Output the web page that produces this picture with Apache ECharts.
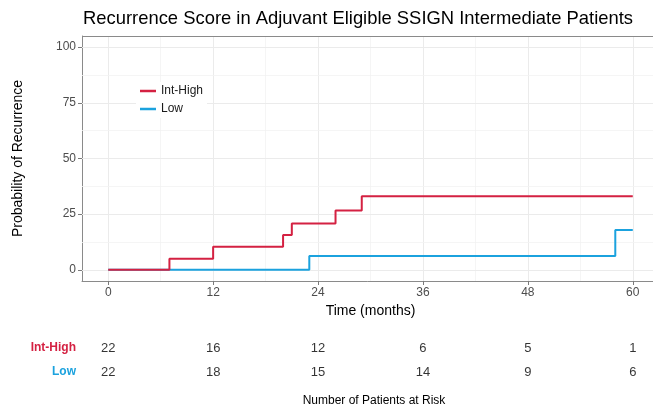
<!DOCTYPE html>
<html>
<head>
<meta charset="utf-8">
<script src="https://cdn.jsdelivr.net/npm/echarts@6/dist/echarts.min.js"></script>
<style>html,body{margin:0;padding:0;background:#fff;}#c{width:653px;height:408px;}</style>
</head>
<body>
<div id="c"></div>
<script>
// ---- data ----
const groups = ['Int-High', 'Low'];
const intHighCurve = [[0, 0], [7, 5.0], [12, 10.4], [20, 15.6], [21, 20.8], [26, 26.6], [29, 33.0], [60, 33.0]];
const lowCurve = [[0, 0], [23, 6.2], [58, 17.9], [60, 17.9]];
const xTicks = [0, 12, 24, 36, 48, 60];
const xMinor = [6, 18, 30, 42, 54];
const yTicks = [0, 25, 50, 75, 100];
const yMinor = [12.5, 37.5, 62.5, 87.5];
const riskTimes = [0, 12, 24, 36, 48, 60];
const riskIntHigh = [22, 16, 12, 6, 5, 1];
const riskLow = [22, 18, 15, 14, 9, 6];

const colors = {'Int-High': '#D42142', 'Low': '#1BA2DE'};
const FONT = 'Liberation Sans, Arial, sans-serif';
const BORDER = '#8a8a8a';

const major = {color: '#EBEBEB', width: 1, type: 'solid'};
const minor = {color: '#F3F3F3', width: 0.8, type: 'solid'};
const gridLines = []
  .concat(xTicks.map(v => ({xAxis: v, lineStyle: major})))
  .concat(xMinor.map(v => ({xAxis: v, lineStyle: minor})))
  .concat(yTicks.map(v => ({yAxis: v, lineStyle: major})))
  .concat(yMinor.map(v => ({yAxis: v, lineStyle: minor})));

const riskData = [];
riskTimes.forEach((t, i) => {
  riskData.push([t, 'Int-High', riskIntHigh[i]]);
  riskData.push([t, 'Low', riskLow[i]]);
});

const chart = echarts.init(document.getElementById('c'), null, {renderer: 'canvas'});
chart.setOption({
  animation: false,
  textStyle: {fontFamily: FONT},
  title: [
    {text: 'Recurrence Score in Adjuvant Eligible SSIGN Intermediate Patients', left: 353, top: 5, textAlign: 'center',
     textStyle: {fontFamily: FONT, fontSize: 18.4, fontWeight: 'normal', color: '#000'}},
    {text: 'Number of Patients at Risk', left: 369, top: 390, textAlign: 'center',
     textStyle: {fontFamily: FONT, fontSize: 12, fontWeight: 'normal', color: '#000'}}
  ],
  legend: {
    data: groups, orient: 'vertical', left: 136, top: 82,
    icon: 'rect', itemWidth: 16, itemHeight: 2.5, itemGap: 4,
    backgroundColor: '#fff', padding: [2, 4, 2, 4],
    textStyle: {fontFamily: FONT, fontSize: 12, color: '#1a1a1a', lineHeight: 14}
  },
  grid: [
    {left: 82, top: 36, width: 577, height: 245, show: false, outerBoundsMode: 'none', containLabel: false},
    {left: 82, top: 336, width: 577, height: 48, outerBoundsMode: 'none', containLabel: false}
  ],
  xAxis: [
    {type: 'value', gridIndex: 0, min: -3, max: 63,
     name: 'Time (months)', nameLocation: 'middle', nameGap: 22,
     nameTextStyle: {fontFamily: FONT, fontSize: 14, color: '#000'},
     axisLine: {show: true, onZero: false, lineStyle: {color: BORDER, width: 1}},
     axisTick: {show: true, length: 4, customValues: xTicks, lineStyle: {color: '#7a7a7a', width: 1}},
     axisLabel: {customValues: xTicks, margin: 6, fontSize: 12, color: '#4D4D4D', fontFamily: FONT},
     splitLine: {show: false}},
    {type: 'value', gridIndex: 1, min: -3, max: 63, show: false}
  ],
  yAxis: [
    {type: 'value', gridIndex: 0, min: -5, max: 105,
     name: 'Probability of Recurrence', nameLocation: 'middle', nameGap: 57, nameRotate: 90,
     nameTextStyle: {fontFamily: FONT, fontSize: 14, color: '#000'},
     axisLine: {show: true, onZero: false, lineStyle: {color: BORDER, width: 1}},
     axisTick: {show: true, length: 4, customValues: yTicks, lineStyle: {color: '#7a7a7a', width: 1}},
     axisLabel: {customValues: yTicks, margin: 6, fontSize: 12, color: '#4D4D4D', fontFamily: FONT},
     splitLine: {show: false}},
    {type: 'category', gridIndex: 1, data: groups, inverse: true,
     axisLine: {show: false}, axisTick: {show: false}, splitLine: {show: false},
     axisLabel: {margin: 6, fontFamily: FONT,
       formatter: v => v === 'Int-High' ? '{ih|' + v + '}' : '{lo|' + v + '}',
       rich: {
         ih: {color: colors['Int-High'], fontWeight: 'bold', fontSize: 12, fontFamily: FONT},
         lo: {color: colors['Low'], fontWeight: 'bold', fontSize: 12, fontFamily: FONT}
       }}}
  ],
  series: [
    {type: 'line', xAxisIndex: 0, yAxisIndex: 0, z: 1, silent: true, data: [[0, 0]],
     symbol: 'none', lineStyle: {opacity: 0}, legendHoverLink: false,
     markLine: {silent: true, z: 1, symbol: ['none', 'none'], label: {show: false}, animation: false,
       data: gridLines.concat([{yAxis: 105, lineStyle: {color: BORDER, width: 1, type: 'solid'}}])}},
    {name: 'Low', type: 'line', step: 'end', xAxisIndex: 0, yAxisIndex: 0, z: 3,
     data: lowCurve, symbol: 'none', color: colors['Low'], lineStyle: {width: 2, color: colors['Low']}},
    {name: 'Int-High', type: 'line', step: 'end', xAxisIndex: 0, yAxisIndex: 0, z: 4,
     data: intHighCurve, symbol: 'none', color: colors['Int-High'], lineStyle: {width: 2, color: colors['Int-High']}},
    {type: 'scatter', xAxisIndex: 1, yAxisIndex: 1, data: riskData, symbolSize: 1,
     itemStyle: {color: 'rgba(0,0,0,0)'}, silent: true,
     label: {show: true, position: 'inside', formatter: p => String(p.value[2]),
             fontFamily: FONT, fontSize: 13, color: '#000'}}
  ]
});
</script>
</body>
</html>
